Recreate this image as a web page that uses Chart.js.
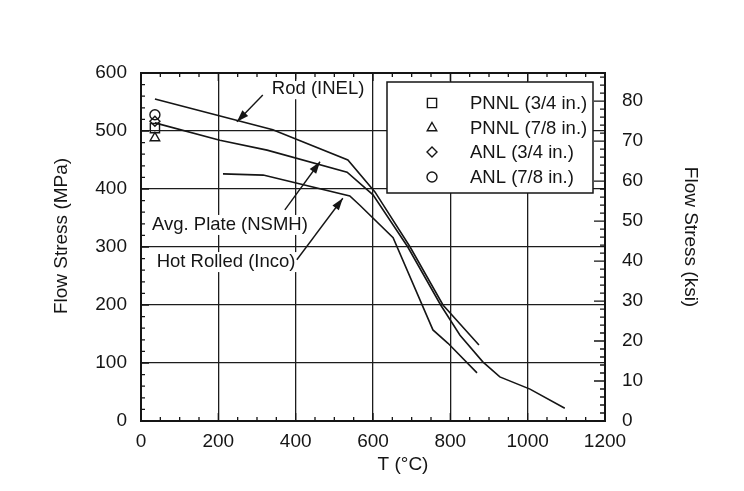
<!DOCTYPE html>
<html>
<head>
<meta charset="utf-8">
<script src="https://cdn.jsdelivr.net/npm/chart.js@4/dist/chart.umd.min.js"></script>
<style>
html,body{margin:0;padding:0;background:#fff;}
#wrap{width:744px;height:491px;}
</style>
</head>
<body>
<div id="wrap"><canvas id="c" width="744" height="491"></canvas></div>
<script>
// ---- data ----
const rodT   = [36, 341, 535, 605, 696, 781, 874];
const rodS   = [555, 502, 450, 395, 300, 200, 131];
const plateT = [36, 204, 326, 533, 600, 690, 775, 825, 884, 928, 1006, 1096];
const plateS = [514, 484, 467, 429, 390, 300, 200, 148, 102, 76, 55, 22];
const hotT   = [212, 316, 540, 566, 652, 755, 794, 869];
const hotS   = [426, 424, 388, 372, 316, 157, 134, 83];

const pointLabels = ["PNNL (3/4 in.)", "PNNL (7/8 in.)", "ANL (3/4 in.)", "ANL (7/8 in.)"];
const pointStyles = ["rect", "triangle", "rectRot", "circle"];
const pointT = [36, 36, 36, 36];
const pointS = [505, 488, 517, 528];

const xTicks = [0, 200, 400, 600, 800, 1000, 1200];
const mpaTicks = [0, 100, 200, 300, 400, 500, 600];
const ksiTicks = [0, 10, 20, 30, 40, 50, 60, 70, 80];
const MPA_PER_KSI = 6.894757;

// annotations: label text, label centre (T, MPa), arrow from -> to (T, MPa)
const annLabels = ["Rod (INEL)", "Avg. Plate (NSMH)", "Hot Rolled (Inco)"];
const annTextT = [458, 230, 220];
const annTextS = [572, 338, 274];
const annFromT = [315, 372, 403];
const annFromS = [562, 364, 278];
const annToT   = [248, 463, 522];
const annToS   = [516, 447, 384];

const FONT = '"Liberation Sans", Arial, Helvetica, sans-serif';
const INK = '#151515';
Chart.defaults.font.family = FONT;
Chart.defaults.font.size = 19;
Chart.defaults.color = INK;

const zip = (xs, ys) => xs.map((v, i) => ({x: v, y: ys[i]}));
const markerRadius = {rect: 6.5, triangle: 5.5, rectRot: 5, circle: 5};

const lineDs = (label, xs, ys) => ({
  label, data: zip(xs, ys), showLine: true, borderColor: INK, borderWidth: 1.6,
  pointRadius: 0, fill: false, tension: 0, yAxisID: 'y'
});

const datasets = [
  lineDs("Rod (INEL)", rodT, rodS),
  lineDs("Avg. Plate (NSMH)", plateT, plateS),
  lineDs("Hot Rolled (Inco)", hotT, hotS)
];
pointLabels.forEach((lab, i) => {
  datasets.push({
    label: lab, data: [{x: pointT[i], y: pointS[i]}], showLine: false,
    pointStyle: pointStyles[i], pointRadius: markerRadius[pointStyles[i]],
    pointBorderWidth: 1.4, borderColor: INK, backgroundColor: 'rgba(255,255,255,0)',
    yAxisID: 'y'
  });
});

function arrow(ctx, x1, y1, x2, y2) {
  ctx.beginPath(); ctx.moveTo(x1, y1); ctx.lineTo(x2, y2); ctx.stroke();
  const a = Math.atan2(y2 - y1, x2 - x1), L = 12, W = 4;
  ctx.beginPath();
  ctx.moveTo(x2, y2);
  ctx.lineTo(x2 - L * Math.cos(a) + W * Math.sin(a), y2 - L * Math.sin(a) - W * Math.cos(a));
  ctx.lineTo(x2 - L * Math.cos(a) - W * Math.sin(a), y2 - L * Math.sin(a) + W * Math.cos(a));
  ctx.closePath(); ctx.fill();
}

const decor = {
  id: 'decor',
  beforeDatasetsDraw(chart) {
    const ctx = chart.ctx, xs = chart.scales.x, ys = chart.scales.y;
    ctx.save();
    ctx.font = '18.5px ' + FONT;
    ctx.fillStyle = '#fff';
    annLabels.forEach((t, i) => {
      const w = ctx.measureText(t).width;
      const cx = xs.getPixelForValue(annTextT[i]), cy = ys.getPixelForValue(annTextS[i]);
      ctx.fillRect(cx - w / 2 - 3, cy - 10, w + 6, 20);
    });
    ctx.restore();
  },
  afterDatasetsDraw(chart) {
    const ctx = chart.ctx, xs = chart.scales.x, ys = chart.scales.y, y2 = chart.scales.y2;
    const a = chart.chartArea;
    ctx.save();
    // frame
    ctx.strokeStyle = INK; ctx.lineWidth = 2;
    ctx.strokeRect(a.left, a.top, a.right - a.left, a.bottom - a.top);
    // inward ticks
    ctx.lineWidth = 1.3;
    ctx.beginPath();
    for (let v = 0; v <= 1200; v += 50) {
      const px = xs.getPixelForValue(v), len = v % 200 === 0 ? 8 : 4;
      ctx.moveTo(px, a.bottom); ctx.lineTo(px, a.bottom - len);
      ctx.moveTo(px, a.top); ctx.lineTo(px, a.top + len);
    }
    for (let v = 0; v <= 600; v += 20) {
      const py = ys.getPixelForValue(v), len = v % 100 === 0 ? 8 : 4;
      ctx.moveTo(a.left, py); ctx.lineTo(a.left + len, py);
    }
    for (let v = 0; v <= 86; v += 2) {
      const py = y2.getPixelForValue(v), len = v % 10 === 0 ? 11 : 5;
      ctx.moveTo(a.right, py); ctx.lineTo(a.right - len, py);
    }
    ctx.stroke();

    // annotations
    ctx.fillStyle = INK; ctx.strokeStyle = INK; ctx.lineWidth = 1.4;
    ctx.font = '18.5px ' + FONT;
    ctx.textAlign = 'center'; ctx.textBaseline = 'middle';
    annLabels.forEach((t, i) => {
      ctx.fillText(t, xs.getPixelForValue(annTextT[i]), ys.getPixelForValue(annTextS[i]));
      arrow(ctx, xs.getPixelForValue(annFromT[i]), ys.getPixelForValue(annFromS[i]),
                 xs.getPixelForValue(annToT[i]), ys.getPixelForValue(annToS[i]));
    });

    // legend box
    const lx = 387, ly = 82, lw = 206, lh = 111;
    ctx.fillStyle = '#fff';
    ctx.fillRect(lx, ly, lw, lh);
    ctx.strokeStyle = INK; ctx.lineWidth = 1.5;
    ctx.strokeRect(lx, ly, lw, lh);
    const rows = [103, 128, 152, 177];
    ctx.textAlign = 'left';
    pointLabels.forEach((lab, i) => {
      const ds = chart.data.datasets[3 + i];
      ctx.strokeStyle = INK; ctx.fillStyle = 'rgba(255,255,255,0)'; ctx.lineWidth = 1.4;
      Chart.helpers.drawPoint(ctx, {pointStyle: ds.pointStyle, radius: ds.pointRadius, rotation: 0, borderWidth: 1.4}, 432, rows[i]);
      ctx.fillStyle = INK;
      ctx.fillText(lab, 470, rows[i] + 1);
    });

    // axis titles
    ctx.font = '19px ' + FONT;
    ctx.textAlign = 'center'; ctx.textBaseline = 'middle';
    ctx.fillText('T (\u00B0C)', 403, 465);
    ctx.save(); ctx.translate(62, 236); ctx.rotate(-Math.PI / 2);
    ctx.fillText('Flow Stress (MPa)', 0, 0); ctx.restore();
    ctx.save(); ctx.translate(690, 237); ctx.rotate(Math.PI / 2);
    ctx.fillText('Flow Stress (ksi)', 0, 0); ctx.restore();
    ctx.restore();
  }
};

const gridColor = (lo, hi) => (c) => (c.tick && (c.tick.value === lo || c.tick.value === hi)) ? 'rgba(0,0,0,0)' : '#1c1c1c';
const plain = v => String(v);

new Chart(document.getElementById('c'), {
  type: 'scatter',
  data: {datasets},
  options: {
    responsive: false, animation: false,
    layout: {padding: {top: 73, left: 0, right: 0, bottom: 0}},
    plugins: {legend: {display: false}, tooltip: {enabled: false}},
    scales: {
      x: {
        type: 'linear', min: 0, max: 1200,
        afterBuildTicks: s => { s.ticks = xTicks.map(v => ({value: v})); },
        ticks: {padding: 9, maxRotation: 0, autoSkip: false, callback: plain},
        grid: {color: gridColor(0, 1200), lineWidth: 1.3, drawTicks: false},
        border: {display: false},
        afterFit: s => { s.height = 70; }
      },
      y: {
        type: 'linear', position: 'left', min: 0, max: 600,
        afterBuildTicks: s => { s.ticks = mpaTicks.map(v => ({value: v})); },
        ticks: {padding: 14, autoSkip: false, callback: plain},
        grid: {color: gridColor(0, 600), lineWidth: 1.3, drawTicks: false},
        border: {display: false},
        afterFit: s => { s.width = 141; }
      },
      y2: {
        type: 'linear', position: 'right', min: 0, max: 600 / MPA_PER_KSI,
        afterBuildTicks: s => { s.ticks = ksiTicks.map(v => ({value: v})); },
        ticks: {padding: 17, autoSkip: false, callback: plain},
        grid: {display: false, drawTicks: false},
        border: {display: false},
        afterFit: s => { s.width = 139; }
      }
    }
  },
  plugins: [decor]
});
</script>
</body>
</html>
